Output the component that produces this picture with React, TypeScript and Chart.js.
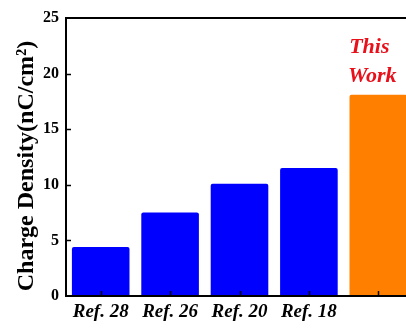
import React, { useEffect, useRef } from "react";
import { Chart, registerables } from "chart.js";

Chart.register(...registerables);

const categories = ["Ref. 28", "Ref. 26", "Ref. 20", "Ref. 18", ""];
const values = [4.4, 7.5, 10.1, 11.5, 18.1];
const barColors = ["#0000ff", "#0000ff", "#0000ff", "#0000ff", "#ff8000"];
const yTitle = "Charge Density(nC/cm²)";
const noteLines = ["This", "Work"];
const yMin = 0;
const yMax = 25;
const yStep = 5;

const SERIF = "'Liberation Serif', 'Times New Roman', serif";

const framePlugin = {
  id: "frame",
  afterDraw(chart: any) {
    const { ctx, chartArea } = chart;
    const { left, right, top, bottom } = chartArea;
    const xs = chart.scales.x;
    const ys = chart.scales.y;
    ctx.save();
    ctx.strokeStyle = "#000";
    ctx.lineWidth = 2;
    ctx.beginPath();
    ctx.moveTo(left, top);
    ctx.lineTo(left, bottom);
    ctx.moveTo(left - 1, top);
    ctx.lineTo(right, top);
    ctx.moveTo(left - 1, bottom);
    ctx.lineTo(right, bottom);
    ctx.stroke();
    // inward ticks
    ctx.lineWidth = 1.5;
    ctx.beginPath();
    for (let v = yMin + yStep; v < yMax; v += yStep) {
      const py = Math.round(ys.getPixelForValue(v)) + 0.5;
      ctx.moveTo(left, py);
      ctx.lineTo(left + 5, py);
    }
    for (let i = 0; i < categories.length; i++) {
      const px = Math.round(xs.getPixelForValue(i)) + 0.5;
      ctx.moveTo(px, bottom);
      ctx.lineTo(px, bottom - 5);
    }
    ctx.stroke();
    // y title
    ctx.fillStyle = "#000";
    ctx.font = `bold 24px ${SERIF}`;
    ctx.textAlign = "center";
    ctx.textBaseline = "middle";
    ctx.translate(27, 166);
    ctx.rotate(-Math.PI / 2);
    ctx.fillText(yTitle, 0, 0);
    ctx.restore();
    // note above last bar
    ctx.save();
    ctx.fillStyle = "#e8101a";
    ctx.font = `italic bold 22px ${SERIF}`;
    ctx.textAlign = "center";
    ctx.textBaseline = "alphabetic";
    const cx = xs.getPixelForValue(categories.length - 1) - 9;
    ctx.fillText(noteLines[0], cx, 53);
    ctx.fillText(noteLines[1], cx + 3, 82);
    ctx.restore();
  },
};

export default function App() {
  const ref = useRef<HTMLCanvasElement | null>(null);
  useEffect(() => {
    if (!ref.current) return;
    const chart = new Chart(ref.current, {
      type: "bar",
      data: {
        labels: categories,
        datasets: [
          {
            data: values,
            backgroundColor: barColors,
            borderWidth: 0,
            borderRadius: 2,
            borderSkipped: "bottom",
            barPercentage: 0.83,
            categoryPercentage: 1,
          },
        ],
      },
      options: {
        animation: false,
        responsive: false,
        maintainAspectRatio: false,
        layout: { padding: { top: 18, right: 0, bottom: 0, left: 0 } },
        plugins: { legend: { display: false }, tooltip: { enabled: false } },
        scales: {
          x: {
            grid: { display: false, drawTicks: false },
            border: { display: false },
            ticks: {
              color: "#000",
              font: { family: SERIF, size: 19, weight: "bold", style: "italic" },
              padding: 5,
              maxRotation: 0,
              autoSkip: false,
            },
            afterFit: (s: any) => {
              s.height = 35;
            },
          },
          y: {
            min: yMin,
            max: yMax,
            grid: { display: false, drawTicks: false },
            border: { display: false },
            ticks: {
              stepSize: yStep,
              color: "#000",
              font: { family: SERIF, size: 16, weight: "bold" },
              padding: 7,
            },
            afterFit: (s: any) => {
              s.width = 66;
            },
          },
        },
      },
      plugins: [framePlugin],
    });
    return () => chart.destroy();
  }, []);
  return (
    <div
      style={{
        position: "fixed",
        left: 0,
        top: 0,
        width: 406,
        height: 331,
        overflow: "hidden",
        background: "#fff",
      }}
    >
      <canvas ref={ref} width={413} height={331} style={{ display: "block" }} />
    </div>
  );
}
